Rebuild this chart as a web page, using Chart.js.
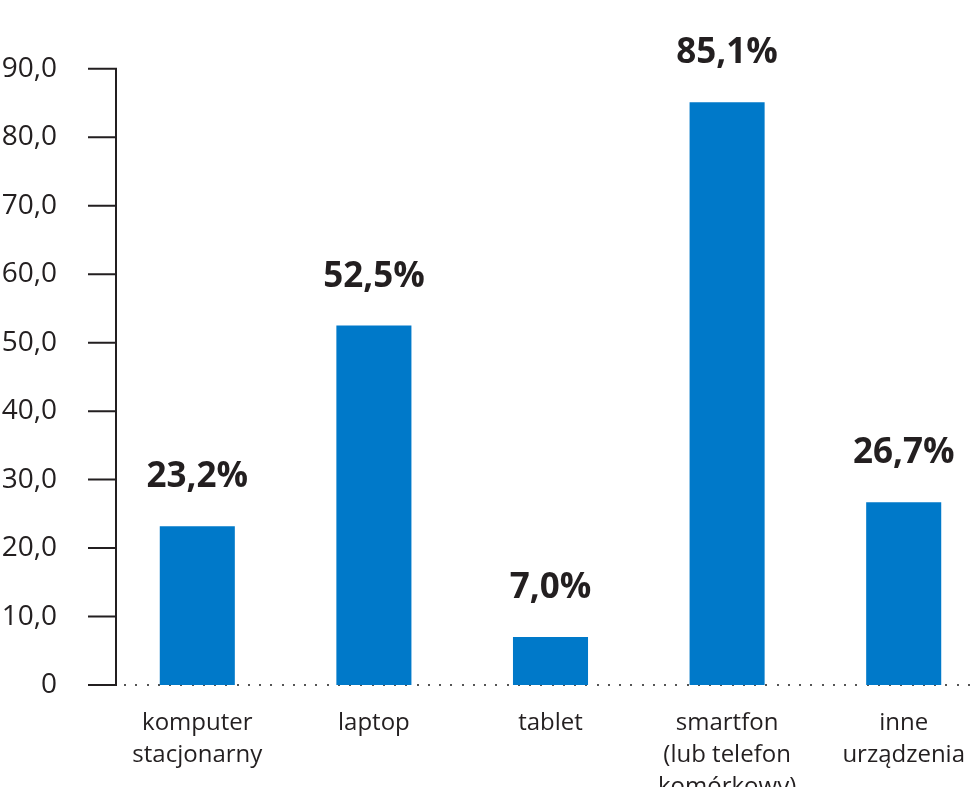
<!DOCTYPE html>
<html>
<head>
<meta charset="utf-8">
<script src="https://cdn.jsdelivr.net/npm/chart.js@4/dist/chart.umd.min.js"></script>
<style>
  html, body { margin: 0; padding: 0; background: #fff; overflow: hidden; }
  #chartCanvas { display: block; }
</style>
</head>
<body>
<canvas id="chartCanvas" width="1000" height="800"></canvas>
<script>
const categories = [
  ['komputer', 'stacjonarny'],
  ['laptop'],
  ['tablet'],
  ['smartfon', '(lub telefon', 'komórkowy)'],
  ['inne', 'urządzenia']
];
const shares = [23.2, 52.5, 7.0, 85.1, 26.7];
const yTicks = [0, 10, 20, 30, 40, 50, 60, 70, 80, 90];

const ink = '#231f20';
const fmt = (v, digits) => v.toFixed(digits).replace('.', ',');

// dotted zero line, under the bars
const zeroLine = {
  id: 'zeroLine',
  beforeDatasetsDraw(chart) {
    const { ctx, chartArea } = chart;
    const py = Math.round(chart.scales.y.getPixelForValue(0));
    ctx.save();
    ctx.fillStyle = '#555';
    for (let x = chartArea.left + 15; x < chart.width; x += 11.25) {
      ctx.fillRect(Math.round(x), py - 1, 2, 2);
    }
    ctx.restore();
  }
};

// y axis line + tick marks, drawn a few px right of the chart area edge like the original
const axisPlugin = {
  id: 'axisLine',
  afterDraw(chart) {
    const { ctx } = chart;
    const y = chart.scales.y;
    const ax = chart.chartArea.left + 7;
    ctx.save();
    ctx.strokeStyle = ink;
    ctx.lineWidth = 2;
    ctx.beginPath();
    ctx.moveTo(ax, y.getPixelForValue(yTicks[yTicks.length - 1]) - 1);
    ctx.lineTo(ax, y.getPixelForValue(0) + 1);
    yTicks.forEach(t => {
      const py = y.getPixelForValue(t);
      ctx.moveTo(ax - 28, py);
      ctx.lineTo(ax + 1, py);
    });
    ctx.stroke();
    ctx.restore();
  }
};

const valueLabels = {
  id: 'valueLabels',
  afterDatasetsDraw(chart) {
    const { ctx } = chart;
    const meta = chart.getDatasetMeta(0);
    ctx.save();
    ctx.fillStyle = ink;
    ctx.font = 'bold 35px "Open Sans"';
    ctx.textAlign = 'center';
    ctx.textBaseline = 'alphabetic';
    meta.data.forEach((bar, i) => {
      ctx.fillText(fmt(shares[i], 1) + '%', bar.x, bar.y - 39);
    });
    ctx.restore();
  }
};

new Chart(document.getElementById('chartCanvas').getContext('2d'), {
  type: 'bar',
  data: {
    labels: categories,
    datasets: [{
      data: shares,
      backgroundColor: '#0079c9',
      categoryPercentage: 1,
      barPercentage: 0.425
    }]
  },
  options: {
    responsive: false,
    animation: false,
    devicePixelRatio: 1,
    layout: { padding: { left: 0, top: 68, right: 8, bottom: 0 } },
    plugins: { legend: { display: false }, tooltip: { enabled: false } },
    scales: {
      x: {
        grid: { display: false, drawTicks: false },
        border: { display: false },
        ticks: {
          color: ink,
          padding: 22,
          maxRotation: 0,
          autoSkip: false,
          font: { family: '"Open Sans"', size: 24, lineHeight: '32px' }
        },
        afterFit(s) { s.height = 115; }
      },
      y: {
        min: 0,
        max: 90,
        grid: { display: false, drawTicks: false },
        border: { display: false },
        ticks: {
          stepSize: 10,
          color: ink,
          padding: 52,
          font: { family: '"Open Sans"', size: 28 },
          callback: v => v === 0 ? '0' : fmt(v, 1)
        },
        afterFit(s) { s.width = 109; }
      }
    }
  },
  plugins: [zeroLine, axisPlugin, valueLabels]
});
</script>
</body>
</html>
